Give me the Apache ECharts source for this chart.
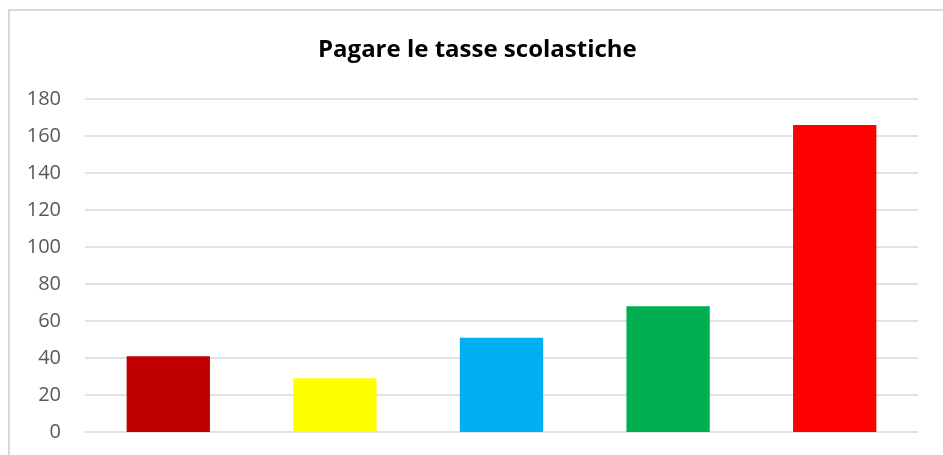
<!DOCTYPE html>
<html>
<head>
<meta charset="utf-8">
<script src="https://cdn.jsdelivr.net/npm/echarts@6/dist/echarts.min.js"></script>
<style>
  html, body { margin: 0; padding: 0; background: #ffffff; }
  #main { width: 943px; height: 455px; }
</style>
</head>
<body>
<div id="main"></div>
<script>
var categories = ['A', 'B', 'C', 'D', 'E'];
var values = [41, 29, 51, 68, 166];
var barColors = ['#C00000', '#FFFF00', '#00B0F0', '#00B050', '#FF0000'];

var chartDom = document.getElementById('main');
var myChart = echarts.init(chartDom);
var option;

option = {
    backgroundColor: '#ffffff',
    graphic: [
        {
            type: 'rect',
            shape: { x: 9, y: 10, width: 1000, height: 1000 },
            style: { fill: 'none', stroke: '#d9d9d9', lineWidth: 2 },
            silent: true
        }
    ],
    title: {
        text: 'Pagare le tasse scolastiche',
        left: 313,
        top: 33,
        textStyle: {
            fontFamily: 'Open Sans',
            fontSize: 24,
            fontWeight: 'bold',
            color: '#000000'
        }
    },
    grid: {
        left: 85,
        right: 25,
        top: 99,
        bottom: 23
    },
    xAxis: {
        type: 'category',
        data: categories,
        axisLine: { show: false },
        axisTick: { show: false },
        axisLabel: { show: false }
    },
    yAxis: {
        type: 'value',
        min: 0,
        max: 180,
        interval: 20,
        axisLine: { show: false },
        axisTick: { show: false },
        axisLabel: {
            margin: 24,
            fontFamily: 'Open Sans',
            fontSize: 20,
            color: '#595959'
        },
        splitLine: {
            lineStyle: { color: '#d9d9d9', width: 1.5 }
        }
    },
    series: [
        {
            type: 'bar',
            barWidth: '50%',
            data: values.map(function (v, i) {
                return { value: v, itemStyle: { color: barColors[i] } };
            })
        }
    ]
};

option && myChart.setOption(option);
</script>
</body>
</html>
